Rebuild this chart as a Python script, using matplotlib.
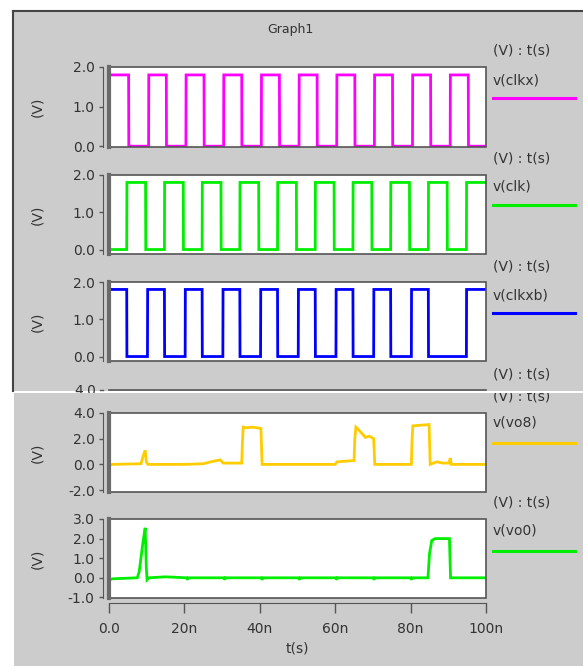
import numpy as np
import matplotlib.pyplot as plt
from matplotlib.patches import Rectangle
from matplotlib.lines import Line2D
from matplotlib.transforms import Bbox, TransformedBbox

plt.rcParams['font.family'] = ['DejaVu Sans']

W, H = 583, 666
BG = '#cccccc'
TXT = '#333333'
EDGE = '#555555'

# clock edges (ns)
clkx_rise = [10.5, 20.4, 30.4, 40.4, 50.4, 60.4, 70.4, 80.5, 90.5]
clkx_fall = [5.2, 15.2, 25.2, 35.2, 45.2, 55.2, 65.2, 75.2, 85.3, 95.3]
clk_rise = [4.7, 14.7, 24.7, 34.7, 44.7, 54.7, 64.7, 74.7, 84.7, 94.8]
clk_fall = [9.7, 19.7, 29.7, 39.7, 49.7, 59.7, 69.7, 79.7, 89.7]
clkxb_rise = [10.2, 20.2, 30.2, 40.2, 50.2, 60.2, 70.2, 80.2, 94.8]
clkxb_fall = [4.7, 14.7, 24.7, 34.7, 44.7, 54.7, 64.7, 74.7, 84.7]
clk_high = 1.8

# analog outputs (ns, V)
vo8_t = [0, 1, 8.5, 9.0, 9.6, 9.9, 10.3, 20, 25, 27, 29.5, 30.3, 35.2, 35.4, 35.6,
         36.5, 38, 40.3, 40.6, 60, 60.5, 65, 65.2, 65.5, 66.5, 68, 69, 69.6,
         70.2, 70.5, 80.2, 80.4, 80.6, 84.9, 85.2, 86, 87, 88.5, 90.2, 90.5, 90.8, 100]
vo8_v = [-0.05, 0.0, 0.05, 0.6, 1.1, 0.2, 0.0, 0.0, 0.05, 0.2, 0.35, 0.1, 0.1, 1.8, 2.9,
         2.85, 2.9, 2.8, 0.0, 0.0, 0.2, 0.3, 2.0, 2.9, 2.6, 2.1, 2.2, 2.1,
         2.0, 0.0, 0.0, 2.0, 3.0, 3.1, 0.0, 0.1, 0.2, 0.1, 0.1, 0.5, 0.0, 0.0]

vo0_t = [0, 1, 7.5, 8.0, 9.0, 9.6, 9.9, 10.1, 10.6, 15, 20.6, 20.8, 21.0, 30.5, 30.7, 30.9,
         40.4, 40.6, 40.8, 50.3, 50.5, 50.7, 60.2, 60.4, 60.6, 70.1, 70.3, 70.5,
         80.0, 80.2, 80.4, 84.6, 85.0, 85.6, 86.5, 90.3, 90.6, 100]
vo0_v = [-0.1, -0.05, 0.0, 0.3, 1.8, 2.55, 0.5, -0.1, 0.0, 0.05, 0.0, -0.1, 0.0, 0.0, -0.1, 0.0,
         0.0, -0.1, 0.0, 0.0, -0.1, 0.0, 0.0, -0.1, 0.0, 0.0, -0.1, 0.0,
         0.0, -0.1, 0.0, 0.0, 1.2, 1.9, 2.0, 2.0, 0.0, 0.0]


def square(start, rises, falls, hi, lo=0.0):
    # start: list of (t, v) points before the first edge
    ev = sorted([(t, hi) for t in rises] + [(t, lo) for t in falls])
    ts = [p[0] for p in start]
    vs = [p[1] for p in start]
    cur = vs[-1]
    for t, v in ev:
        ts += [t, t + 0.05]
        vs += [cur, v]
        cur = v
    ts.append(100.0)
    vs.append(cur)
    return ts, vs


fig = plt.figure(figsize=(W / 100, H / 100), dpi=100)
fig.patch.set_facecolor('white')


def fx(x):
    return x / W


def fy(y):
    return 1 - y / H


# screenshot backgrounds
fig.patches.append(Rectangle((fx(13), fy(391)), fx(W - 13), (391 - 11) / H,
                             transform=fig.transFigure, fc=BG, ec='none', zorder=-5))
fig.patches.append(Rectangle((fx(14), 0), fx(W - 14), (H - 393) / H,
                             transform=fig.transFigure, fc=BG, ec='none', zorder=1.5))
fig.lines.append(Line2D([fx(13), fx(W)], [fy(11), fy(11)], transform=fig.transFigure,
                        color='#444444', lw=1.5, zorder=-4))
fig.lines.append(Line2D([fx(13), fx(13)], [fy(11), fy(391)], transform=fig.transFigure,
                        color='#444444', lw=1.5, zorder=-4))

X0, X1 = 109, 486


def panel(top, bottom, t, v, color, ylim, yticks, name, hdr_y, lbl_y, line_y, z=1):
    ax = fig.add_axes([fx(X0), fy(bottom), (X1 - X0) / W, (bottom - top) / H], zorder=z)
    ax.set_facecolor('white')
    ax.plot(t, v, color=color, lw=2.0, solid_joinstyle='miter')
    ax.set_xlim(0, 100)
    ax.set_ylim(*ylim)
    for s in ['top', 'right', 'bottom']:
        ax.spines[s].set_visible(False)
    ax.spines['left'].set_position(('outward', 4.3))
    ax.spines['left'].set_color(EDGE)
    ax.add_patch(Rectangle((0, 0), 1, 1, transform=ax.transAxes, fill=False,
                           ec=EDGE, lw=1.2, clip_on=False, zorder=5))
    ax.plot([0, 0], [0, 1], transform=ax.transAxes, color='#6a6a6a', lw=3.0,
            clip_on=False, zorder=6)
    ax.set_yticks(yticks)
    ax.set_yticklabels([f'{y:.1f}' for y in yticks])
    ax.tick_params(axis='y', length=3, width=1, color=EDGE, pad=3,
                   labelsize=10, labelcolor=TXT)
    ax.set_xticks([])
    fig.text(fx(37), fy((top + bottom) / 2), '(V)', rotation=90, ha='center',
             va='center', fontsize=10, color=TXT, zorder=z)
    fig.text(fx(493), fy(lbl_y), name, ha='left', va='center', fontsize=10,
             color=TXT, zorder=z)
    fig.lines.append(Line2D([fx(493), fx(575)], [fy(line_y), fy(line_y)],
                            transform=fig.transFigure, color=color, lw=2.2, zorder=z))
    if hdr_y is not None:
        fig.text(fx(493), fy(hdr_y), '(V) : t(s)', ha='left', va='center',
                 fontsize=10, color=TXT, zorder=z)
    return ax


fig.text(fx(290), fy(30), 'Graph1', ha='center', va='center', fontsize=9, color=TXT)

t1, v1 = square([(0.0, 0.0), (0.1, 2.0), (0.2, clk_high)], clkx_rise, clkx_fall, clk_high)
panel(67, 147, t1, v1, '#ff00ff', (-0.02, 2.0), [0.0, 1.0, 2.0], 'v(clkx)', 51, 80, 98)

t2, v2 = square([(0.0, clk_high), (0.05, 0.0)], clk_rise, clk_fall, clk_high)
panel(175, 254, t2, v2, '#00ee00', (-0.12, 2.0), [0.0, 1.0, 2.0], 'v(clk)', 158, 187, 205)

t3, v3 = square([(0.0, clk_high)], clkxb_rise, clkxb_fall, clk_high)
panel(282, 361, t3, v3, '#0000ff', (-0.12, 2.0), [0.0, 1.0, 2.0], 'v(clkxb)', 266, 295, 313)

# cut-off top of the next panel in the first screenshot
fig.text(fx(493), fy(374), '(V) : t(s)', ha='left', va='center', fontsize=10, color=TXT)
fig.lines.append(Line2D([fx(X0), fx(X1)], [fy(390), fy(390)], transform=fig.transFigure,
                        color=EDGE, lw=1.2, zorder=1))
fig.lines.append(Line2D([fx(100), fx(103)], [fy(390), fy(390)], transform=fig.transFigure,
                        color=EDGE, lw=1, zorder=1))
fig.text(fx(96), fy(391), '4.0', ha='right', va='center', fontsize=10, color=TXT, zorder=1)

panel(413, 492, vo8_t, vo8_v, '#ffcc00', (-2.15, 4.0), [-2.0, 0.0, 2.0, 4.0], 'v(vo8)',
      None, 423, 443, z=2)
t_cut = fig.text(fx(493), fy(396), '(V) : t(s)', ha='left', va='center', fontsize=10,
                 color=TXT, zorder=2)
t_cut.set_clip_box(TransformedBbox(Bbox.from_extents(0, 0, 1, fy(393)), fig.transFigure))
t_cut.set_clip_on(True)

ax5 = panel(519, 598, vo0_t, vo0_v, '#00ee00', (-1.03, 3.0), [-1.0, 0.0, 1.0, 2.0, 3.0],
            'v(vo0)', 503, 531, 551, z=2)
ax5.spines['bottom'].set_visible(True)
ax5.spines['bottom'].set_position(('outward', 3.6))
ax5.spines['bottom'].set_color(EDGE)
ax5.set_xticks([0, 20, 40, 60, 80, 100])
ax5.set_xticklabels(['0.0', '20n', '40n', '60n', '80n', '100n'])
ax5.tick_params(axis='x', length=7, width=1, color=EDGE, pad=7, labelsize=10,
                labelcolor=TXT)
fig.text(fx(297), fy(648), 't(s)', ha='center', va='center', fontsize=10, color=TXT, zorder=2)

fig.savefig('out.png', dpi=100)
